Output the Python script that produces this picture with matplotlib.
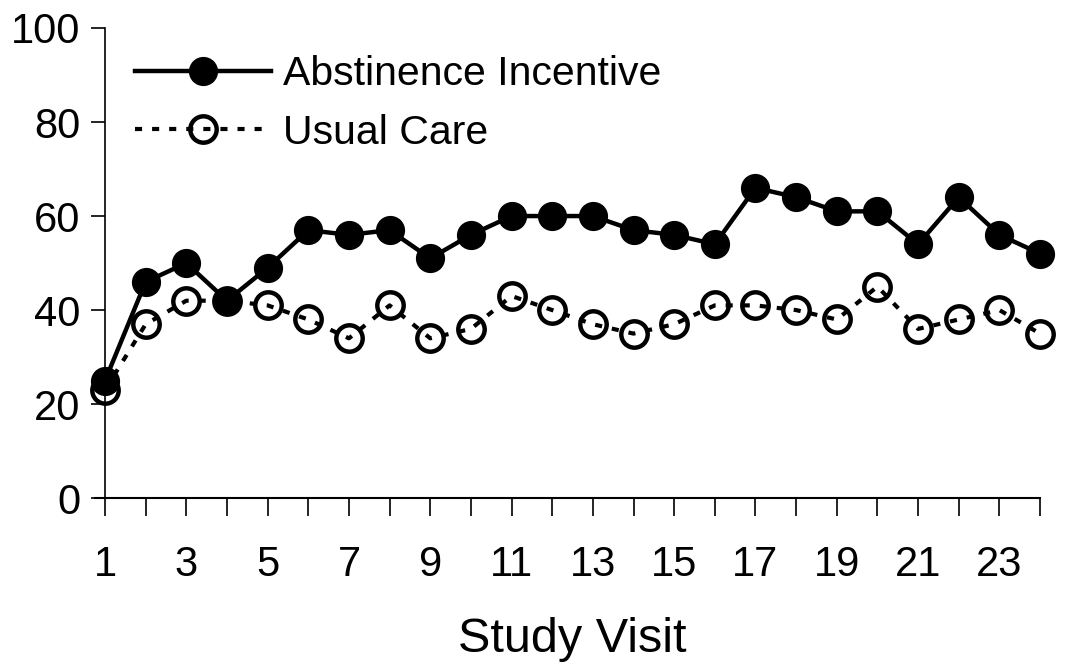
import matplotlib
matplotlib.use('Agg')
import matplotlib.pyplot as plt

# data
visits = list(range(1, 25))
abstinence_incentive = [25, 46, 50, 42, 49, 57, 56, 57, 51, 56, 60, 60,
                        60, 57, 56, 54, 66, 64, 61, 61, 54, 64, 56, 52]
usual_care = [23, 37, 42, 42, 41, 38, 34, 41, 34, 36, 43, 40,
              37, 35, 37, 41, 41, 40, 38, 45, 36, 38, 40, 35]
x_ticks = list(range(1, 24, 2))
y_ticks = [0, 20, 40, 60, 80, 100]

plt.rcParams['font.family'] = ['Liberation Sans', 'DejaVu Sans']

fig = plt.figure(figsize=(10.65, 6.66), dpi=100)
ax = fig.add_axes([0.0986, 0.252, 0.878, 0.706])

ax.plot(visits, usual_care, color='black', linestyle=(0, (1.7, 2.4)), linewidth=3,
        marker='o', markersize=19, markerfacecolor='none', markeredgecolor='black',
        markeredgewidth=3.2, label='Usual Care', clip_on=False, zorder=3)
ax.plot(visits, abstinence_incentive, color='black', linestyle='-', linewidth=3.2,
        marker='o', markersize=20, markerfacecolor='black', markeredgecolor='black',
        label='Abstinence Incentive', clip_on=False, zorder=4)

ax.set_xlim(1, 24)
ax.set_ylim(0, 100)
ax.set_xticks(visits)
ax.set_xticklabels([str(v) if v in x_ticks else '' for v in visits])
ax.set_yticks(y_ticks)

for s in ['top', 'right']:
    ax.spines[s].set_visible(False)
ax.spines['left'].set_linewidth(1.2)
ax.spines['bottom'].set_linewidth(1.5)
ax.spines['bottom'].set_bounds(0.75, 24)

ax.tick_params(axis='x', direction='out', length=13, width=1.2, pad=21, labelsize=30)
ax.tick_params(axis='y', direction='out', length=10, width=1.2, pad=8, labelsize=30)

ax.set_xlabel('Study Visit', fontsize=35, labelpad=23)

handles, labels = ax.get_legend_handles_labels()
ax.legend(handles[::-1], labels[::-1], loc='upper left', bbox_to_anchor=(0.015, 0.977),
          frameon=False, fontsize=29.5, handlelength=3.3, handletextpad=0.3,
          labelspacing=0.5, borderaxespad=0)

fig.savefig('out.png', dpi=100)
